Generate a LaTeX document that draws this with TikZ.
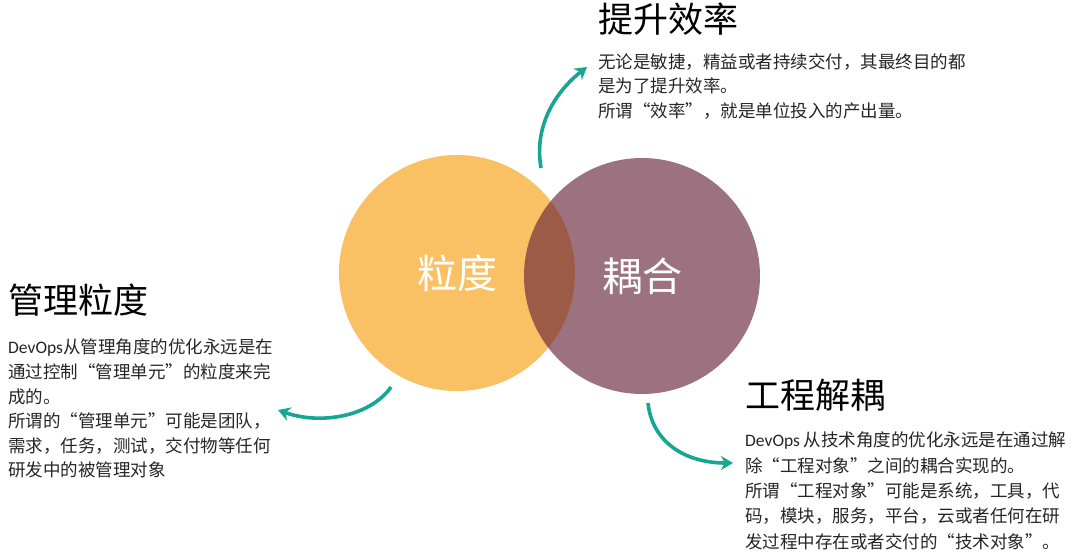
\documentclass[tikz,border=0pt]{standalone}
\usepackage{fontspec}
\setmainfont{Noto Sans CJK SC}
\newfontfamily\latinfont{Carlito}
\usetikzlibrary{arrows.meta}

\definecolor{granorange}{RGB}{250,193,100}
\definecolor{couplepurple}{RGB}{101,32,55}
\definecolor{arrowteal}{RGB}{23,166,147}

\begin{document}
\begin{tikzpicture}[x=1pt, y=-1pt,
		title/.style={anchor=west, inner sep=0pt, font=\fontsize{35}{35}\selectfont},
		para/.style={anchor=north west, inner sep=0pt, align=left, font=\fontsize{17.5}{24.6}\selectfont, text=black!85},
		bubble/.style={shape=circle, minimum size=236pt, inner sep=0pt, text=white, font=\fontsize{40}{40}\selectfont},
		turn/.style={draw=arrowteal, line width=3.6pt, -{Stealth[length=12pt, width=14pt]}}]
			\fill[white] (0, 0) rectangle (1080, 556);
			\useasboundingbox (0, 0) rectangle (1080, 556);

			% the two circles
			\node[bubble, fill=granorange] (gran) at (457, 273){粒度};
			\node[bubble, fill=couplepurple, fill opacity=0.63, text opacity=1] (couple) at (642, 276){耦合};

			% titles and texts
			\node[title] (efftitle) at (598, 19){提升效率};
			\node[para] (efftext) at (598, 53){无论是敏捷，精益或者持续交付，其最终目的都\\是为了提升效率。\\所谓“效率”，就是单位投入的产出量。};

			\node[title] (mgmttitle) at (8, 300){管理粒度};
			\node[para] (mgmttext) at (8, 339){{\latinfont DevOps}从管理角度的优化永远是在\\通过控制“管理单元”的粒度来完\\成的。\\所谓的“管理单元”可能是团队，\\需求，任务，测试，交付物等任何\\研发中的被管理对象};

			\node[title] (engtitle) at (745, 395){工程解耦};
			\node[para, font=\fontsize{17.5}{25.3}\selectfont] (engtext) at (745, 432){{\latinfont DevOps} 从技术角度的优化永远是在通过解\\除“工程对象”之间的耦合实现的。\\所谓“工程对象”可能是系统，工具，代\\码，模块，服务，平台，云或者任何在研\\发过程中存在或者交付的“技术对象”。};

			% arrow ends
			\coordinate (efffrom) at (541, 168);
			\coordinate (effto) at (587, 67);
			\coordinate (mgmtfrom) at (391, 387);
			\coordinate (mgmtto) at (278, 410);
			\coordinate (engfrom) at (648, 403);
			\coordinate (engto) at (733, 463);

			\draw[turn] (efffrom) .. controls (533, 122) and (560, 88) .. (effto);
			\draw[turn] (mgmtfrom) .. controls (370, 417) and (320, 425) .. (mgmtto);
			\draw[turn] (engfrom) .. controls (652, 442) and (685, 463) .. (engto);
		\end{tikzpicture}
\end{document}
